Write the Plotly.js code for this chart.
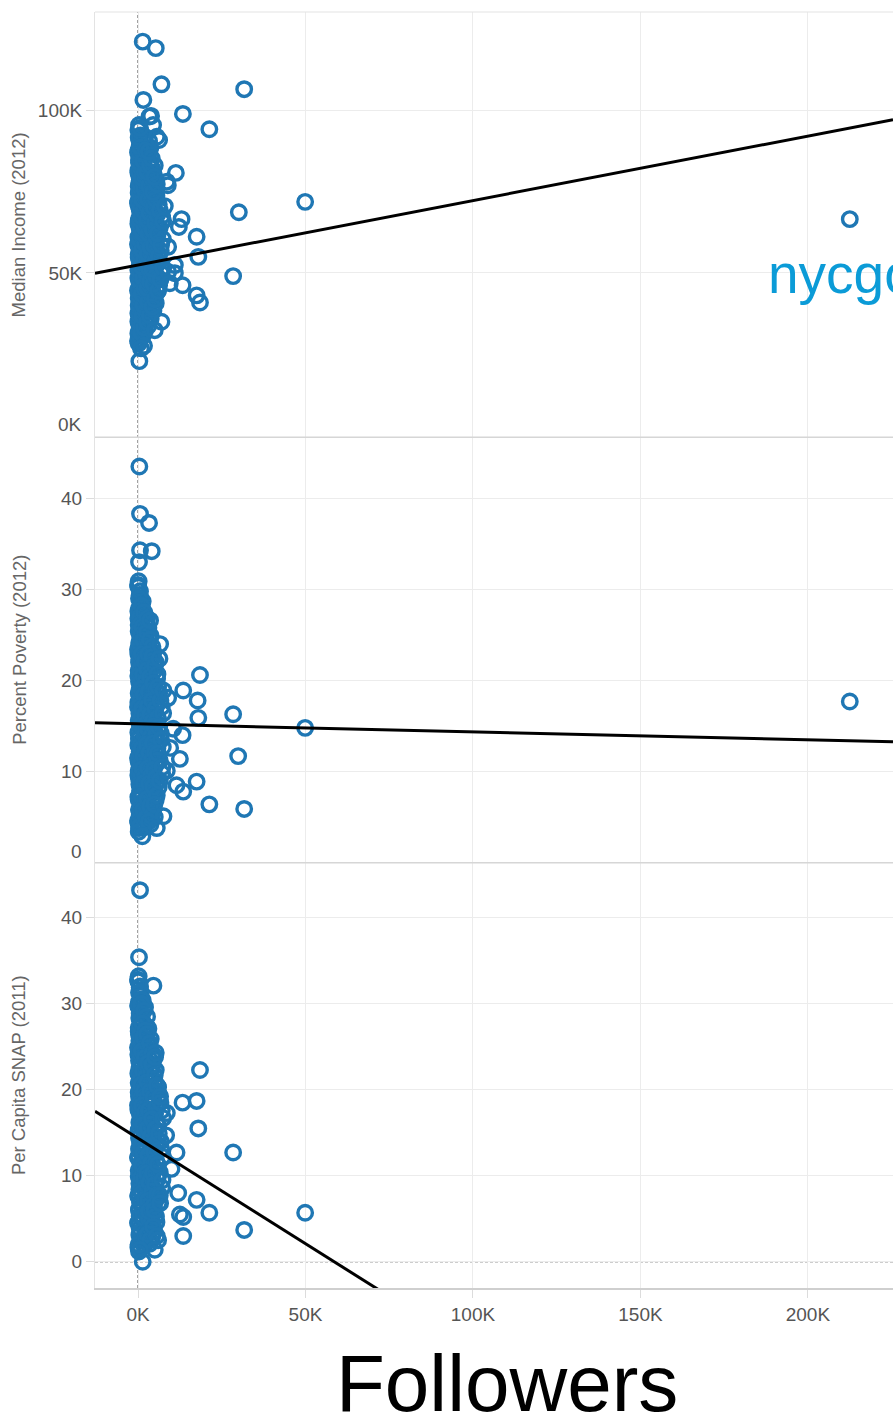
<!DOCTYPE html>
<html>
<head>
<meta charset="utf-8">
<script src="https://cdn.plot.ly/plotly-3.0.1.min.js"></script>
<style>html,body{margin:0;padding:0;background:#fff;}#chart{width:893px;height:1418px;}</style>
</head>
<body>
<div id="chart"></div>
<script>
// ---- data (followers in thousands, income in thousands of dollars) ----
const clusterFollowers = [
0.2,0.5,0.1,0.8,0.3,0.6,0.1,0.4,0.9,0.2,0.7,0.3,0.5,0.1,0.8,0.4,0.6,0.2,0.9,0.3,0.5,0.1,0.7,0.4,0.2,0.8,0.6,0.3,0.1,0.9,0.5,0.2,0.7,0.4,0.1,0.6,0.3,0.8,0.2,0.5,0.4,0.7,0.1,0.3,
1.4,2.1,1.2,2.5,1.7,1.1,2.3,1.5,1.9,2.6,1.3,2.0,1.6,2.4,1.2,1.8,2.2,1.4,2.6,1.1,1.9,2.3,1.5,2.0,1.3,2.5,1.7,1.2,2.1,1.6,2.4,1.4,1.9,2.2,1.1,1.8,
3.1,3.8,2.9,3.5,4.1,3.2,2.8,3.9,3.4,4.2,3.0,3.7,3.3,4.0,2.9,3.6,4.1,3.1,3.8,3.4,2.8,3.9,3.2,4.2,3.5,3.0,3.7,3.3,
4.6,5.3,4.9,5.7,4.5,5.1,5.6,4.7,5.4,4.4,5.0,5.8,4.8,5.2,4.5,5.5,4.9,5.3,4.6,5.0,
6.3,7.1,6.0,6.8,7.4,6.5,7.2,6.2,
0.0,0.6,0.3,0.9,0.1,0.5,0.8,0.2,0.7,0.4,0.0,0.9,0.3,0.6,0.1,0.8,0.5,0.2,0.7,0.0,0.4,0.9,0.6,0.1,0.3,0.8,0.5,0.0,0.7,0.2,0.9,0.4,0.6,0.1,0.8,0.3,0.5,0.0,0.7,0.2,
1.0,1.8,2.7,1.3,2.2,1.6,2.8,1.1,2.0,2.5,1.5,2.3,1.0,1.7,2.6,1.2,2.1,2.8,1.4,1.9,2.4,1.0,1.6,2.7,1.3,2.2,1.8,2.5,1.1,2.0,1.5,2.3,
2.7,3.5,4.3,3.0,3.9,2.8,3.6,4.4,3.2,4.0,2.9,3.7,4.3,3.1,3.8,2.7,3.4,4.2,3.0,3.9,3.3,4.4,2.8,3.6,4.1,3.2,
4.3,5.0,5.8,4.6,5.4,4.2,5.2,5.9,4.8,5.5,4.4,5.1,5.7,4.7,5.3,4.5,5.6,4.9,
6.0,6.7,7.5,6.2,6.9,5.9,7.3,6.5];
const clusterIncome = [
28.3,29.8,31.4,32.7,34.5,35.8,37.6,39.1,40.8,42.2,43.9,45.3,47.1,48.4,50.2,51.6,53.4,54.7,56.5,57.9,59.6,61.0,62.8,64.1,65.9,67.2,69.0,70.3,72.1,73.4,75.2,76.6,78.3,79.7,81.5,82.8,84.6,86.0,87.7,89.1,90.8,92.2,93.9,95.4,
30.6,32.3,34.1,35.9,37.4,39.2,40.9,42.6,44.4,46.0,47.8,49.5,51.1,52.9,54.6,56.2,58.0,59.7,61.3,63.1,64.8,66.4,68.2,69.9,71.5,73.3,75.0,76.6,78.4,80.1,81.7,83.5,85.2,86.8,88.6,91.3,
33.8,35.9,37.9,40.1,42.2,44.3,46.4,48.5,50.6,52.7,54.8,56.9,59.0,61.1,63.2,65.3,67.4,69.5,71.6,73.7,75.8,77.9,80.0,82.1,84.2,86.3,88.4,90.5,
38.4,40.7,43.1,45.4,47.8,50.1,52.5,54.8,57.2,59.5,61.9,64.2,66.6,68.9,71.3,73.6,76.0,78.3,80.7,83.0,
46.2,49.7,53.3,56.8,60.4,63.9,67.5,71.0,
29.1,30.7,32.2,33.8,35.1,36.9,38.3,40.0,41.5,43.1,44.6,46.3,47.7,49.4,50.9,52.5,54.0,55.7,57.2,58.8,60.3,62.0,63.5,65.1,66.6,68.2,69.7,71.4,72.9,74.5,76.0,77.6,79.1,80.8,82.3,83.9,85.4,87.0,88.5,91.6,
31.5,33.2,35.0,36.7,38.3,40.1,41.8,43.5,45.2,46.9,48.6,50.3,52.0,53.7,55.4,57.1,58.8,60.5,62.2,63.9,65.6,67.3,69.0,70.7,72.4,74.1,75.8,77.5,79.2,81.0,84.3,87.7,
34.9,36.9,39.0,41.1,43.2,45.3,47.4,49.5,51.6,53.7,55.8,57.9,60.0,62.1,64.2,66.3,68.4,70.5,72.6,74.7,76.8,78.9,81.0,83.1,85.2,87.3,
39.6,41.9,44.3,46.6,49.0,51.3,53.7,56.0,58.4,60.7,63.1,65.4,67.8,70.1,72.5,74.8,77.2,79.5,
44.5,48.0,51.5,55.0,58.6,62.1,65.7,69.2];
const clusterPoverty = [
30.9,29.4,30.3,28.6,27.9,28.8,26.8,27.3,25.6,26.1,24.7,23.8,24.2,22.9,21.7,22.3,20.6,21.1,19.4,19.9,18.3,17.6,16.8,17.2,15.6,14.9,15.3,13.7,12.9,13.3,11.8,11.1,10.4,10.9,9.6,8.8,9.2,7.7,6.9,7.3,5.8,5.1,4.4,3.8,
28.7,27.2,27.9,26.3,25.5,26.0,24.4,23.6,24.0,22.5,21.4,21.9,20.2,19.3,19.8,18.1,17.4,16.6,17.0,15.4,14.5,14.1,13.0,12.3,12.7,11.4,10.2,10.7,9.1,8.5,7.9,6.6,6.1,5.3,4.5,3.9,
25.8,24.9,24.1,23.3,22.6,21.6,20.8,20.0,19.1,18.4,17.6,16.7,15.9,15.0,14.2,13.4,12.5,11.7,10.8,10.0,9.1,8.3,7.5,6.6,5.8,4.9,4.2,5.4,
23.1,22.0,21.1,20.2,19.2,18.3,17.3,16.4,15.4,14.5,13.5,12.6,11.6,10.7,9.7,8.8,7.8,6.9,5.9,5.0,
18.6,17.1,15.7,14.2,12.7,11.2,9.8,8.3,
30.5,29.8,29.0,28.3,27.6,26.9,26.2,25.4,24.9,24.1,23.4,22.7,22.0,21.3,20.5,19.8,19.1,18.6,17.9,17.1,16.4,15.8,15.0,14.3,13.6,12.9,12.2,11.5,10.8,10.1,9.4,8.6,7.9,7.2,6.5,5.8,5.2,4.6,4.1,3.4,
28.2,27.5,26.8,25.9,25.1,24.4,23.7,22.9,22.1,21.3,20.6,19.9,19.1,18.4,17.7,16.9,16.2,15.4,14.7,14.0,13.2,12.5,11.7,11.0,10.3,9.5,8.8,8.1,7.3,6.5,5.8,4.9,
25.3,24.5,23.7,22.9,22.1,21.2,20.4,19.6,18.8,17.9,17.1,16.3,15.5,14.6,13.8,13.0,12.1,11.3,10.4,9.6,8.7,7.9,7.0,6.2,5.1,4.5,
22.6,21.6,20.7,19.7,18.8,17.8,16.9,15.9,15.0,14.0,13.1,12.1,11.2,10.2,9.3,8.3,7.4,6.4,
19.3,17.8,16.4,14.9,13.5,12.0,10.5,9.0];
const clusterSnap = [
33.2,31.9,32.6,30.9,30.2,29.1,29.7,28.3,27.5,26.8,25.9,26.4,24.7,24.1,23.2,22.4,21.9,20.8,20.1,19.2,18.6,17.7,16.9,16.2,15.3,14.7,13.8,13.1,12.2,11.5,10.7,9.9,9.2,8.4,7.7,6.9,6.1,5.4,4.6,3.9,3.1,2.4,1.7,1.2,
30.4,29.6,28.1,27.4,26.6,25.2,24.6,23.8,22.5,21.7,22.1,20.4,19.6,18.9,17.8,17.1,16.4,15.5,14.8,13.9,13.3,12.4,11.6,10.9,10.1,9.4,8.6,7.9,7.1,6.4,5.6,4.9,4.1,3.4,2.6,1.9,
27.1,25.9,24.8,23.5,22.6,21.4,20.3,19.3,18.2,17.1,16.1,15.0,14.1,12.9,11.9,10.8,9.8,8.7,7.6,6.6,5.6,4.5,3.6,2.8,2.1,3.3,4.0,6.2,
23.6,22.3,21.0,19.8,18.5,17.2,16.0,14.7,13.4,12.2,10.9,9.6,8.4,7.1,5.8,4.6,3.5,5.2,6.4,7.9,
19.4,17.6,15.8,14.0,12.2,10.4,8.6,6.8,
32.8,32.0,31.3,30.5,29.8,28.9,28.0,27.2,26.5,25.7,24.9,24.2,23.4,22.7,21.9,21.2,20.4,19.7,18.9,18.2,17.4,16.7,15.9,15.1,14.4,13.6,12.9,12.1,11.4,10.6,9.8,9.1,8.3,7.6,6.8,6.0,5.3,4.5,3.5,2.0,
30.0,29.2,28.5,27.7,26.9,26.1,25.3,24.5,23.7,23.0,22.2,21.4,20.6,19.8,19.0,18.2,17.4,16.7,15.9,15.1,14.3,13.5,12.7,11.9,11.2,10.4,9.6,8.8,8.0,7.2,5.2,3.0,
26.5,25.4,24.2,23.1,22.0,20.9,19.8,18.7,17.6,16.6,15.5,14.5,13.5,12.4,11.4,10.3,9.2,8.2,7.1,6.1,5.0,4.1,3.2,2.5,4.8,5.9,
22.9,21.7,20.4,19.1,17.9,16.6,15.4,14.1,12.8,11.6,10.3,9.0,7.8,6.5,5.3,4.1,3.0,6.0,
20.3,18.5,16.7,14.9,13.1,11.3,9.5,7.7];

const incomeOutFollowers = [1.4,5.3,7.0,31.7,1.6,13.4,3.9,3.4,4.5,0.6,21.3,5.6,6.3,11.3,8.6,8.9,49.9,8.0,30.1,212.5,13.0,7.5,12.2,17.5,9.0,18.0,11.0,9.0,11.0,28.4,9.5,13.3,17.5,18.5,7.0,5.0,1.8,0.9,0.4];
const incomeOut = [121.0,119.0,107.9,106.4,103.1,98.8,98.2,98.0,95.4,94.5,94.1,91.8,90.8,80.7,78.0,76.9,71.8,70.5,68.6,66.5,66.5,66.0,64.1,61.1,58.0,54.9,52.4,50.3,49.9,49.0,46.8,46.2,43.1,40.9,35.0,32.4,27.6,26.8,22.9];
const povertyOutFollowers = [0.4,0.6,3.3,4.1,0.6,0.3,3.6,6.6,6.4,18.5,13.5,7.6,9.0,17.8,212.5,28.4,18.0,49.9,10.5,13.3,9.6,29.9,12.5,8.6,17.5,11.5,13.5,21.3,31.7,7.6,5.6,1.3];
const povertyOut = [43.5,38.3,37.3,34.2,34.3,33.0,26.6,24.0,22.4,20.6,18.9,18.9,18.1,17.8,17.7,16.3,15.9,14.8,14.7,14.0,12.6,11.7,11.4,10.1,8.9,8.5,7.8,6.4,5.9,5.1,3.8,2.9];
const snapOutFollowers = [0.6,0.3,4.6,5.3,5.1,18.5,5.6,6.6,17.5,13.3,8.6,18.0,8.4,28.4,11.5,10.0,12.0,17.5,6.6,21.3,49.9,12.5,13.5,31.7,13.5,6.0,5.0,0.6,1.4];
const snapOut = [43.2,35.4,32.1,24.3,23.8,22.3,20.5,19.2,18.7,18.5,17.3,15.5,14.7,12.7,12.7,10.8,8.0,7.2,6.8,5.7,5.7,5.5,5.2,3.7,3.0,2.5,1.4,1.4,0.0];

// trend lines: value = intercept + slope * followers(K)
const trendIntercept = [52.4, 15.24, 14.35];
const trendSlope = [0.198, -0.00877, -0.245];

const panelTitles = ['Median Income (2012)', 'Percent Poverty (2012)', 'Per Capita SNAP (2011)'];
const xTickVals = [0, 50, 100, 150, 200];
const xTickText = ['0K', '50K', '100K', '150K', '200K'];
const incomeTickVals = [50, 100];
const incomeTickText = ['50K', '100K'];
const pctTickVals = [10, 20, 30, 40];
const pctTickText = ['10', '20', '30', '40'];
const snapTickVals = [0, 10, 20, 30, 40];
const snapTickText = ['0', '10', '20', '30', '40'];
const zeroTickText = ['0K', '0'];   // bottom-edge labels of the two upper panels
const labelName = 'nycgo';
const labelFollowers = 212.5;
const labelIncome = 66.5;

// ---- styles ----
const xRange = [-12.84, 225.4];
const blue = '#1f77b4';
const FONT = 'Liberation Sans, Arial, sans-serif';
const tickFont = {family: FONT, size: 19, color: '#555'};
const marker = {symbol: 'circle-open', size: 14.5, color: blue, line: {width: 3.4, color: blue}};

function pts(xs1, ys1, xs2, ys2, ya) {
  return {type: 'scatter', mode: 'markers', x: xs1.concat(xs2), y: ys1.concat(ys2),
          xaxis: 'x', yaxis: ya, marker: marker, hoverinfo: 'skip', showlegend: false};
}
function trend(i, ya) {
  return {type: 'scatter', mode: 'lines', x: xRange,
          y: xRange.map(v => trendIntercept[i] + trendSlope[i] * v),
          xaxis: 'x', yaxis: ya, line: {color: '#000', width: 3}, hoverinfo: 'skip', showlegend: false};
}

const data = [
  pts(clusterFollowers, clusterIncome, incomeOutFollowers, incomeOut, 'y'),
  pts(clusterFollowers, clusterPoverty, povertyOutFollowers, povertyOut, 'y2'),
  pts(clusterFollowers, clusterSnap, snapOutFollowers, snapOut, 'y3'),
  trend(0, 'y'), trend(1, 'y2'), trend(2, 'y3')
];

function yax(domain, range, tv, tt) {
  return {domain: domain, range: range, tickvals: tv, ticktext: tt, tickfont: tickFont,
          ticks: 'outside', ticklen: 8, tickcolor: '#dcdcdc', showgrid: true, gridcolor: '#ececec',
          gridwidth: 1, zeroline: false, showline: true, linecolor: '#e3e3e3', linewidth: 1,
          anchor: 'x', fixedrange: true};
}

function titleAnn(i, yref) {
  return {text: panelTitles[i], xref: 'paper', yref: yref, x: -0.0955, y: 0.5, textangle: -90,
          showarrow: false, xanchor: 'center', yanchor: 'middle',
          font: {family: FONT, size: 18.5, color: '#666'}};
}
function zeroAnn(i, yref) {
  return {text: zeroTickText[i], xref: 'paper', yref: yref, x: 0, y: 0, xanchor: 'right',
          yanchor: 'middle', xshift: -11, yshift: 11, showarrow: false, font: tickFont};
}

const layout = {
  width: 893, height: 1418, autosize: false,
  margin: {l: 95, r: 0, t: 12, b: 130},
  paper_bgcolor: '#fff', plot_bgcolor: 'rgba(0,0,0,0)',
  showlegend: false,
  xaxis: {range: xRange, tickvals: xTickVals, ticktext: xTickText, tickfont: tickFont,
          ticks: 'outside', ticklen: 8, tickcolor: '#dcdcdc', showgrid: true, gridcolor: '#ececec',
          zeroline: false, showline: true, linecolor: '#cfcfcf', linewidth: 2, anchor: 'y3', fixedrange: true},
  yaxis: yax([2/3, 1], [-0.5, 130.1], incomeTickVals, incomeTickText),
  yaxis2: yax([1/3, 2/3], [0, 46.7], pctTickVals, pctTickText),
  yaxis3: yax([0, 1/3], [-3.05, 46.4], snapTickVals, snapTickText),
  shapes: [
    {type: 'line', xref: 'x', yref: 'paper', x0: 0, x1: 0, y0: 0, y1: 1, layer: 'below',
     line: {color: '#444', width: 1, dash: '3px,2px'}},
    {type: 'line', xref: 'paper', yref: 'y3', x0: 0, x1: 1, y0: 0, y1: 0, layer: 'below',
     line: {color: '#444', width: 1, dash: '3px,2px'}},
    {type: 'line', xref: 'paper', yref: 'paper', x0: 0, x1: 1, y0: 1, y1: 1,
     line: {color: '#e3e3e3', width: 1}},
    {type: 'line', xref: 'paper', yref: 'paper', x0: 0, x1: 1, y0: 2/3, y1: 2/3,
     line: {color: '#d6d6d6', width: 1.5}},
    {type: 'line', xref: 'paper', yref: 'paper', x0: 0, x1: 1, y0: 1/3, y1: 1/3,
     line: {color: '#d6d6d6', width: 1.5}}
  ],
  annotations: [
    titleAnn(0, 'y domain'), titleAnn(1, 'y2 domain'), titleAnn(2, 'y3 domain'),
    zeroAnn(0, 'y'), zeroAnn(1, 'y2'),
    {text: 'Followers', xref: 'paper', yref: 'paper', x: 0.516, y: -0.0745, showarrow: false,
     xanchor: 'center', yanchor: 'middle',
     font: {family: FONT, size: 80, color: '#000'}},
    {text: labelName, xref: 'x', yref: 'y', x: labelFollowers, y: labelIncome, showarrow: false,
     xanchor: 'left', yanchor: 'middle', xshift: -84, yshift: -55,
     font: {family: FONT, size: 55, color: '#0b9bd7'}}
  ]
};

Plotly.newPlot('chart', data, layout, {displayModeBar: false, staticPlot: true});
</script>
</body>
</html>
